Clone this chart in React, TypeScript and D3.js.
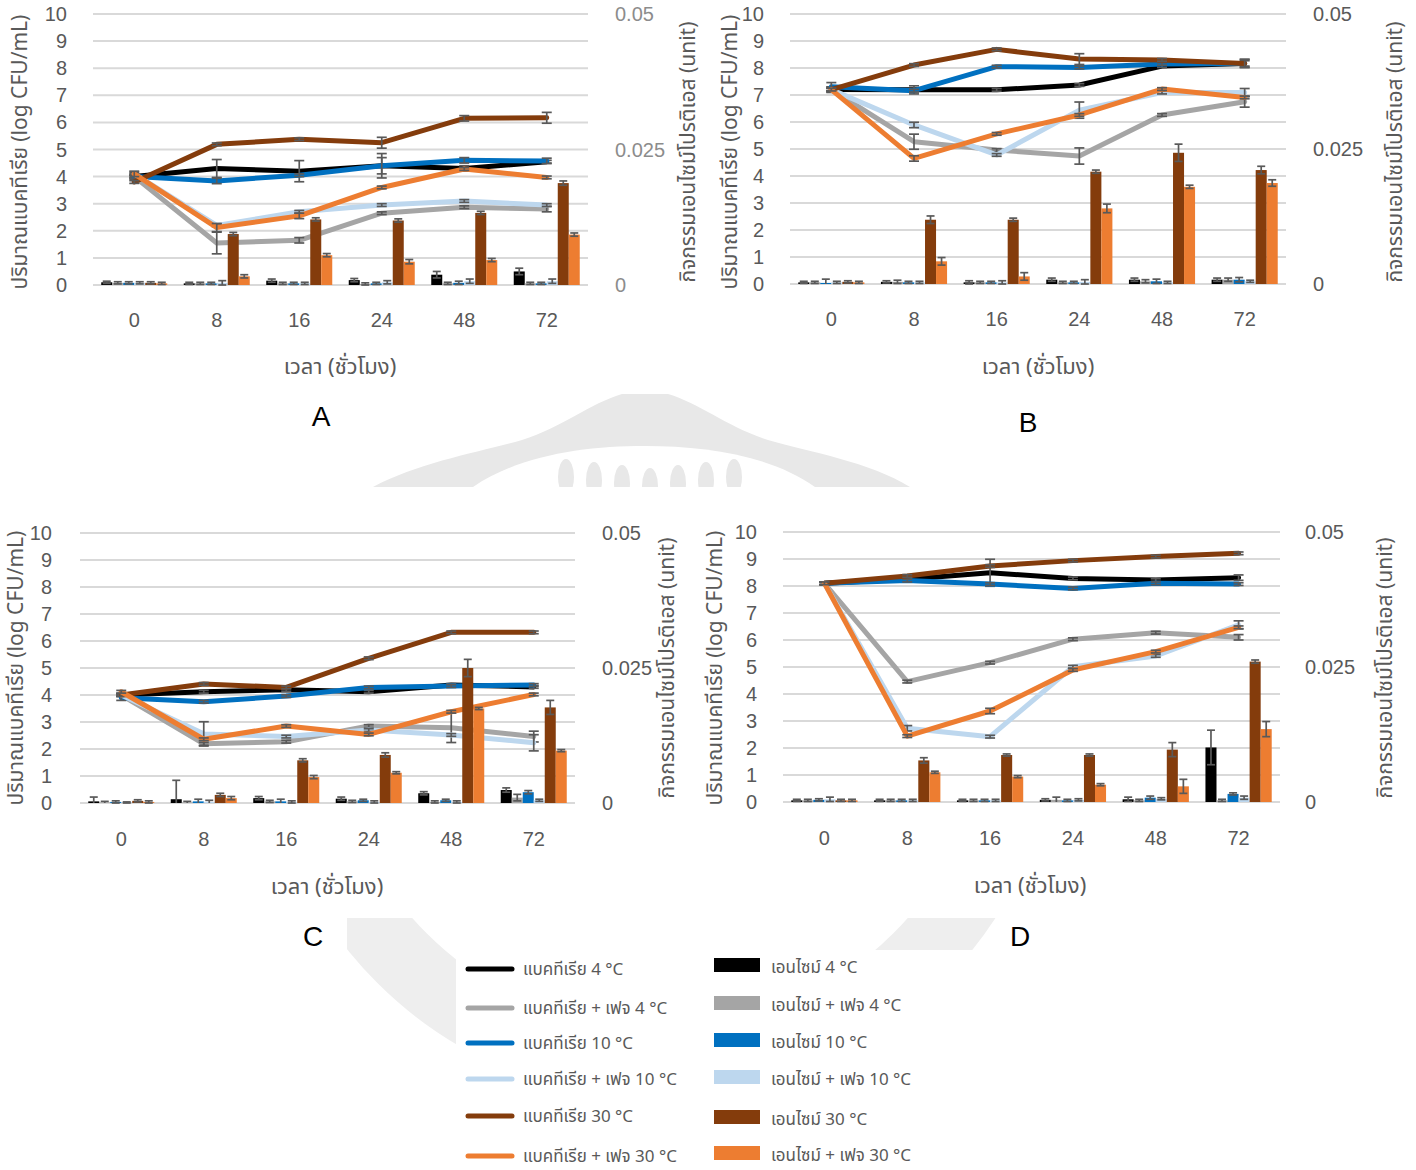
import { useEffect, useRef } from 'react';
import * as d3 from 'd3';

// time points (hours) shared by all four panels
const hours = ['0', '8', '16', '24', '48', '72'];
const leftTicks = [0, 1, 2, 3, 4, 5, 6, 7, 8, 9, 10];
const rightTicks = [0, 0.025, 0.05];

const seriesColors = ['#000000', '#a5a5a5', '#0070c0', '#bdd7ee', '#843c0c', '#ed7d31'];
const lineLabels = [
  'แบคทีเรีย 4 °C',
  'แบคทีเรีย + เฟจ 4 °C',
  'แบคทีเรีย 10 °C',
  'แบคทีเรีย + เฟจ 10 °C',
  'แบคทีเรีย 30 °C',
  'แบคทีเรีย + เฟจ 30 °C',
];
const barLabels = [
  'เอนไซม์ 4 °C',
  'เอนไซม์ + เฟจ 4 °C',
  'เอนไซม์ 10 °C',
  'เอนไซม์ + เฟจ 10 °C',
  'เอนไซม์ 30 °C',
  'เอนไซม์ + เฟจ 30 °C',
];

// bacteria, log CFU/mL (order: 4, +phage 4, 10, +phage 10, 30, +phage 30)
const bacteriaA = [
  [4.0, 4.3, 4.2, 4.4, 4.3, 4.55],
  [4.0, 1.55, 1.65, 2.65, 2.87, 2.8],
  [4.0, 3.84, 4.05, 4.4, 4.6, 4.58],
  [4.1, 2.2, 2.7, 2.95, 3.1, 2.95],
  [3.8, 5.19, 5.38, 5.25, 6.15, 6.17],
  [4.1, 2.12, 2.55, 3.6, 4.28, 3.97],
];
const bacteriaErrA = [
  [0.05, 0.33, 0.39, 0.45, 0.1, 0.05],
  [0.05, 0.4, 0.1, 0.05, 0.05, 0.1],
  [0.1, 0.1, 0.05, 0.3, 0.1, 0.1],
  [0.05, 0.05, 0.05, 0.05, 0.05, 0.05],
  [0.05, 0.05, 0.05, 0.2, 0.1, 0.2],
  [0.1, 0.15, 0.1, 0.05, 0.05, 0.05],
];
const bacteriaB = [
  [7.2, 7.19, 7.19, 7.37, 8.07, 8.17],
  [7.2, 5.27, 4.96, 4.74, 6.26, 6.75],
  [7.31, 7.16, 8.05, 8.02, 8.15, 8.17],
  [7.2, 5.89, 4.78, 6.44, 7.09, 7.09],
  [7.2, 8.11, 8.69, 8.33, 8.3, 8.17],
  [7.2, 4.65, 5.56, 6.26, 7.22, 6.91],
];
const bacteriaErrB = [
  [0.1, 0.15, 0.05, 0.05, 0.05, 0.15],
  [0.1, 0.28, 0.05, 0.3, 0.05, 0.2],
  [0.15, 0.05, 0.05, 0.05, 0.05, 0.1],
  [0.05, 0.1, 0.05, 0.3, 0.05, 0.15],
  [0.05, 0.05, 0.05, 0.2, 0.05, 0.15],
  [0.05, 0.1, 0.05, 0.05, 0.05, 0.05],
];
const bacteriaC = [
  [4.0, 4.12, 4.19, 4.12, 4.37, 4.3],
  [4.0, 2.19, 2.27, 2.85, 2.79, 2.46],
  [3.9, 3.75, 3.96, 4.28, 4.33, 4.37],
  [4.0, 2.56, 2.46, 2.7, 2.52, 2.23],
  [4.0, 4.41, 4.28, 5.36, 6.32, 6.32],
  [4.12, 2.36, 2.85, 2.54, 3.38, 4.02],
];
const bacteriaErrC = [
  [0.05, 0.05, 0.05, 0.05, 0.05, 0.05],
  [0.05, 0.05, 0.05, 0.05, 0.55, 0.2],
  [0.1, 0.05, 0.05, 0.05, 0.05, 0.05],
  [0.05, 0.45, 0.05, 0.05, 0.05, 0.3],
  [0.05, 0.05, 0.05, 0.05, 0.05, 0.05],
  [0.05, 0.05, 0.05, 0.05, 0.05, 0.05],
];
const bacteriaD = [
  [8.1, 8.25, 8.49, 8.28, 8.22, 8.31],
  [8.1, 4.46, 5.16, 6.03, 6.27, 6.1],
  [8.1, 8.2, 8.07, 7.91, 8.1, 8.07],
  [8.1, 2.73, 2.42, 5.01, 5.41, 6.56],
  [8.1, 8.37, 8.74, 8.94, 9.09, 9.21],
  [8.1, 2.44, 3.37, 4.89, 5.57, 6.47],
];
const bacteriaErrD = [
  [0.05, 0.05, 0.5, 0.05, 0.05, 0.1],
  [0.05, 0.05, 0.05, 0.05, 0.05, 0.1],
  [0.05, 0.05, 0.05, 0.05, 0.05, 0.05],
  [0.05, 0.1, 0.05, 0.05, 0.05, 0.15],
  [0.05, 0.05, 0.05, 0.05, 0.05, 0.05],
  [0.05, 0.05, 0.1, 0.05, 0.05, 0.05],
];

// protease activity, unit
const enzymeA = [
  [0.0005, 0.0003, 0.0008, 0.0009, 0.0019, 0.0025],
  [0.0004, 0.0003, 0.0003, 0.0002, 0.0003, 0.0003],
  [0.0004, 0.0003, 0.0003, 0.0003, 0.0004, 0.0003],
  [0.0004, 0.0004, 0.0003, 0.0005, 0.0007, 0.0007],
  [0.0004, 0.0094, 0.0121, 0.0119, 0.0133, 0.0188],
  [0.0003, 0.0016, 0.0055, 0.0043, 0.0046, 0.0093],
];
const enzymeErrA = [
  [0.0002, 0.0002, 0.0003, 0.0003, 0.0006, 0.0006],
  [0.0002, 0.0002, 0.0002, 0.0002, 0.0002, 0.0002],
  [0.0002, 0.0002, 0.0002, 0.0002, 0.0003, 0.0002],
  [0.0002, 0.0004, 0.0002, 0.0003, 0.0004, 0.0004],
  [0.0002, 0.0003, 0.0003, 0.0003, 0.0003, 0.0004],
  [0.0002, 0.0003, 0.0003, 0.0004, 0.0003, 0.0003],
];
const enzymeB = [
  [0.0003, 0.0004, 0.0003, 0.0008, 0.0008, 0.0008],
  [0.0003, 0.0004, 0.0003, 0.0003, 0.0005, 0.0008],
  [0.0002, 0.0003, 0.0003, 0.0003, 0.0005, 0.0008],
  [0.0003, 0.0003, 0.0003, 0.0004, 0.0003, 0.0005],
  [0.0004, 0.0119, 0.0119, 0.0208, 0.0243, 0.0211],
  [0.0003, 0.0042, 0.0014, 0.014, 0.018, 0.0187],
];
const enzymeErrB = [
  [0.0002, 0.0002, 0.0003, 0.0003, 0.0003, 0.0003],
  [0.0002, 0.0003, 0.0002, 0.0002, 0.0003, 0.0003],
  [0.0007, 0.0002, 0.0002, 0.0002, 0.0004, 0.0004],
  [0.0002, 0.0002, 0.0003, 0.0004, 0.0002, 0.0002],
  [0.0002, 0.0007, 0.0003, 0.0003, 0.0016, 0.0007],
  [0.0002, 0.0007, 0.0007, 0.0008, 0.0003, 0.0006],
];
const enzymeC = [
  [0.0003, 0.0007, 0.0009, 0.0008, 0.0018, 0.0024],
  [0.0001, 0.0001, 0.0003, 0.0003, 0.0002, 0.001],
  [0.0002, 0.0003, 0.0003, 0.0005, 0.0005, 0.002],
  [0.0001, 0.0002, 0.0002, 0.0002, 0.0002, 0.0005],
  [0.0004, 0.0015, 0.0079, 0.0089, 0.025, 0.0177],
  [0.0002, 0.0009, 0.0048, 0.0056, 0.0175, 0.0097],
];
const enzymeErrC = [
  [0.0008, 0.0035, 0.0003, 0.0003, 0.0003, 0.0004],
  [0.0002, 0.0002, 0.0002, 0.0002, 0.0002, 0.0006],
  [0.0002, 0.0004, 0.0004, 0.0002, 0.0002, 0.0003],
  [0.0001, 0.0003, 0.0002, 0.0002, 0.0002, 0.0002],
  [0.0002, 0.0003, 0.0003, 0.0004, 0.0016, 0.0013],
  [0.0002, 0.0003, 0.0003, 0.0002, 0.0002, 0.0002],
];
const enzymeD = [
  [0.0003, 0.0003, 0.0003, 0.0004, 0.0005, 0.0101],
  [0.0003, 0.0003, 0.0003, 0.0004, 0.0003, 0.0003],
  [0.0004, 0.0003, 0.0003, 0.0003, 0.0008, 0.0015],
  [0.0005, 0.0003, 0.0003, 0.0004, 0.0006, 0.0008],
  [0.0003, 0.0077, 0.0087, 0.0087, 0.0097, 0.026],
  [0.0003, 0.0055, 0.0047, 0.0032, 0.0029, 0.0135],
];
const enzymeErrD = [
  [0.0002, 0.0002, 0.0002, 0.0002, 0.0004, 0.0032],
  [0.0002, 0.0002, 0.0002, 0.0005, 0.0002, 0.0002],
  [0.0002, 0.0002, 0.0002, 0.0002, 0.0003, 0.0002],
  [0.0004, 0.0002, 0.0002, 0.0002, 0.0002, 0.0003],
  [0.0002, 0.0005, 0.0002, 0.0002, 0.0013, 0.0003],
  [0.0002, 0.0002, 0.0002, 0.0002, 0.0013, 0.0014],
];

const panels = [
  { letter: 'A', bact: bacteriaA, bactErr: bacteriaErrA, enz: enzymeA, enzErr: enzymeErrA,
    x0: 93, x1: 588, yTop: 14, yBot: 285, leftTickX: 67, rightTickX: 615, rightColor: '#8c8c8c',
    leftTitleX: 20, rightTitleX: 688, titleY: 152, xLabelY: 327, xTitleX: 340, xTitleY: 374, letterX: 321, letterY: 426 },
  { letter: 'B', bact: bacteriaB, bactErr: bacteriaErrB, enz: enzymeB, enzErr: enzymeErrB,
    x0: 790, x1: 1286, yTop: 14, yBot: 284, leftTickX: 764, rightTickX: 1313, rightColor: '#595959',
    leftTitleX: 730, rightTitleX: 1395, titleY: 152, xLabelY: 326, xTitleX: 1038, xTitleY: 374, letterX: 1028, letterY: 432 },
  { letter: 'C', bact: bacteriaC, bactErr: bacteriaErrC, enz: enzymeC, enzErr: enzymeErrC,
    x0: 80, x1: 575, yTop: 533, yBot: 803, leftTickX: 52, rightTickX: 602, rightColor: '#595959',
    leftTitleX: 16, rightTitleX: 667, titleY: 668, xLabelY: 846, xTitleX: 327, xTitleY: 894, letterX: 313, letterY: 946 },
  { letter: 'D', bact: bacteriaD, bactErr: bacteriaErrD, enz: enzymeD, enzErr: enzymeErrD,
    x0: 783, x1: 1280, yTop: 532, yBot: 802, leftTickX: 757, rightTickX: 1305, rightColor: '#595959',
    leftTitleX: 715, rightTitleX: 1385, titleY: 668, xLabelY: 845, xTitleX: 1030, xTitleY: 893, letterX: 1020, letterY: 946 },
];

const NUM_FONT = '"Liberation Sans Narrow", "Arial Narrow", "Liberation Sans", Arial, sans-serif';
const THAI_FONT = '"Noto Sans Thai", "Liberation Sans", Arial, sans-serif';
const TEXT = '#595959';
const ERR = '#595959';

export default function App() {
  const svgRef = useRef<SVGSVGElement>(null);

  useEffect(() => {
    if (!svgRef.current) return;
    const svg = d3.select(svgRef.current);
    svg.selectAll('*').remove();

    svg.append('rect').attr('width', 1416).attr('height', 1170).attr('fill', '#fff');

    // faint watermark behind the panels
    const wm = svg.append('g');
    const clipTop = wm.append('clipPath').attr('id', 'wm-top');
    clipTop.append('rect').attr('x', 0).attr('y', 394).attr('width', 1416).attr('height', 93);
    const top = wm.append('g').attr('clip-path', 'url(#wm-top)');
    top.append('path')
      .attr('d', 'M373,487 C420,462 480,452 522,440 C572,424 602,392 645,390 C688,392 718,424 768,440 C810,452 870,462 910,487 Z')
      .attr('fill', '#e8e8e8');
    top.append('path')
      .attr('d', 'M473,487 C520,455 585,446 645,446 C705,446 770,455 815,487 Z')
      .attr('fill', '#fff');
    d3.range(7).forEach(i => {
      top.append('ellipse')
        .attr('cx', 566 + i * 28).attr('cy', 486 - Math.abs(i - 3) * 3)
        .attr('rx', 8).attr('ry', 18).attr('fill', '#e8e8e8');
    });
    const clipLow = wm.append('clipPath').attr('id', 'wm-low');
    clipLow.append('rect').attr('x', 0).attr('y', 918).attr('width', 1416).attr('height', 160);
    wm.append('circle')
      .attr('cx', 660).attr('cy', 700).attr('r', 365)
      .attr('fill', 'none').attr('stroke', '#eeeeee').attr('stroke-width', 70)
      .attr('clip-path', 'url(#wm-low)');
    wm.append('rect').attr('x', 0).attr('y', 918).attr('width', 347).attr('height', 48).attr('fill', '#fff');
    wm.append('rect').attr('x', 456).attr('y', 950).attr('width', 530).attr('height', 220).attr('fill', '#fff');

    panels.forEach(p => {
      const g = svg.append('g');
      const x = d3.scaleBand().domain(hours).range([p.x0, p.x1]).paddingInner(0.2).paddingOuter(0.1);
      const xs = d3.scaleBand().domain(d3.range(6).map(String)).range([0, x.bandwidth()]);
      const yL = d3.scaleLinear().domain([0, 10]).range([p.yBot, p.yTop]);
      const yR = d3.scaleLinear().domain([0, 0.05]).range([p.yBot, p.yTop]);
      const cx = (i: number) => (x(hours[i]) ?? 0) + x.bandwidth() / 2;

      g.selectAll('line.grid').data(leftTicks).join('line')
        .attr('x1', p.x0).attr('x2', p.x1)
        .attr('y1', d => yL(d)).attr('y2', d => yL(d))
        .attr('stroke', '#d9d9d9').attr('stroke-width', 2);

      g.selectAll('text.lt').data(leftTicks).join('text')
        .attr('x', p.leftTickX).attr('y', d => yL(d))
        .attr('dy', '0.35em').attr('text-anchor', 'end')
        .style('font-family', NUM_FONT).style('font-size', '20px').style('fill', TEXT)
        .text(d => String(d));

      g.selectAll('text.rt').data(rightTicks).join('text')
        .attr('x', p.rightTickX).attr('y', d => yR(d))
        .attr('dy', '0.35em').attr('text-anchor', 'start')
        .style('font-family', NUM_FONT).style('font-size', '20px').style('fill', p.rightColor)
        .text(d => String(d));

      g.selectAll('text.xt').data(hours).join('text')
        .attr('x', (_, i) => cx(i)).attr('y', p.xLabelY)
        .attr('text-anchor', 'middle')
        .style('font-family', NUM_FONT).style('font-size', '20px').style('fill', TEXT)
        .text(d => d);

      // bacteria lines with error bars
      const line = d3.line<number>().x((_, i) => cx(i)).y(d => yL(d));
      p.bact.forEach((vals, s) => {
        g.append('path').datum(vals)
          .attr('d', line)
          .attr('fill', 'none').attr('stroke', seriesColors[s])
          .attr('stroke-width', 5).attr('stroke-linejoin', 'round').attr('stroke-linecap', 'round');
        vals.forEach((v, i) => {
          const e = p.bactErr[s][i];
          const eg = g.append('g').attr('stroke', ERR).attr('stroke-width', 1.7);
          eg.append('line').attr('x1', cx(i)).attr('x2', cx(i)).attr('y1', yL(v - e)).attr('y2', yL(v + e));
          [v - e, v + e].forEach(t => {
            eg.append('line').attr('x1', cx(i) - 5).attr('x2', cx(i) + 5).attr('y1', yL(t)).attr('y2', yL(t));
          });
        });
      });

      // enzyme bars (secondary axis, drawn above the lines)
      p.enz.forEach((vals, s) => {
        vals.forEach((v, i) => {
          const bx = (x(hours[i]) ?? 0) + (xs(String(s)) ?? 0);
          const bw = xs.bandwidth();
          g.append('rect')
            .attr('x', bx).attr('y', yR(v)).attr('width', bw).attr('height', p.yBot - yR(v))
            .attr('fill', seriesColors[s]);
          const e = p.enzErr[s][i];
          const mx = bx + bw / 2;
          const eg = g.append('g').attr('stroke', ERR).attr('stroke-width', 1.7);
          eg.append('line').attr('x1', mx).attr('x2', mx)
            .attr('y1', Math.min(p.yBot, yR(v - e))).attr('y2', yR(v + e));
          [v - e, v + e].forEach(t => {
            if (t < 0) return;
            eg.append('line').attr('x1', mx - 4).attr('x2', mx + 4).attr('y1', yR(t)).attr('y2', yR(t));
          });
        });
      });

      // axis titles
      g.append('text')
        .attr('transform', `translate(${p.leftTitleX},${p.titleY}) rotate(-90)`)
        .attr('text-anchor', 'middle').attr('dy', '0.35em')
        .style('font-family', THAI_FONT).style('font-size', '21px').style('fill', TEXT)
        .text('ปริมาณแบคทีเรีย (log CFU/mL)');
      g.append('text')
        .attr('transform', `translate(${p.rightTitleX},${p.titleY}) rotate(-90)`)
        .attr('text-anchor', 'middle').attr('dy', '0.35em')
        .style('font-family', THAI_FONT).style('font-size', '21px').style('fill', TEXT)
        .text('กิจกรรมเอนไซม์โปรติเอส (unit)');
      g.append('text')
        .attr('x', p.xTitleX).attr('y', p.xTitleY).attr('text-anchor', 'middle')
        .style('font-family', THAI_FONT).style('font-size', '22px').style('fill', TEXT)
        .text('เวลา (ชั่วโมง)');
      g.append('text')
        .attr('x', p.letterX).attr('y', p.letterY).attr('text-anchor', 'middle')
        .style('font-family', NUM_FONT).style('font-size', '28px').style('fill', '#000')
        .text(p.letter);
    });

    // legend
    const lg = svg.append('g');
    const lineRows = [969, 1008, 1043, 1079, 1116, 1156];
    const barRows = [965, 1003, 1040, 1077, 1117, 1153];
    lineLabels.forEach((label, i) => {
      lg.append('line')
        .attr('x1', 468).attr('x2', 512).attr('y1', lineRows[i]).attr('y2', lineRows[i])
        .attr('stroke', seriesColors[i]).attr('stroke-width', 5).attr('stroke-linecap', 'round');
      lg.append('text')
        .attr('x', 523).attr('y', lineRows[i]).attr('dy', '0.35em')
        .style('font-family', THAI_FONT).style('font-size', '17px').style('fill', TEXT)
        .text(label);
    });
    barLabels.forEach((label, i) => {
      lg.append('rect')
        .attr('x', 714).attr('y', barRows[i] - 7).attr('width', 46).attr('height', 14)
        .attr('fill', seriesColors[i]);
      lg.append('text')
        .attr('x', 771).attr('y', barRows[i] + 2).attr('dy', '0.35em')
        .style('font-family', THAI_FONT).style('font-size', '17px').style('fill', TEXT)
        .text(label);
    });
  }, []);

  return (
    <svg ref={svgRef} width={1416} height={1170}
      style={{ position: 'absolute', left: 0, top: 0, display: 'block' }} />
  );
}
